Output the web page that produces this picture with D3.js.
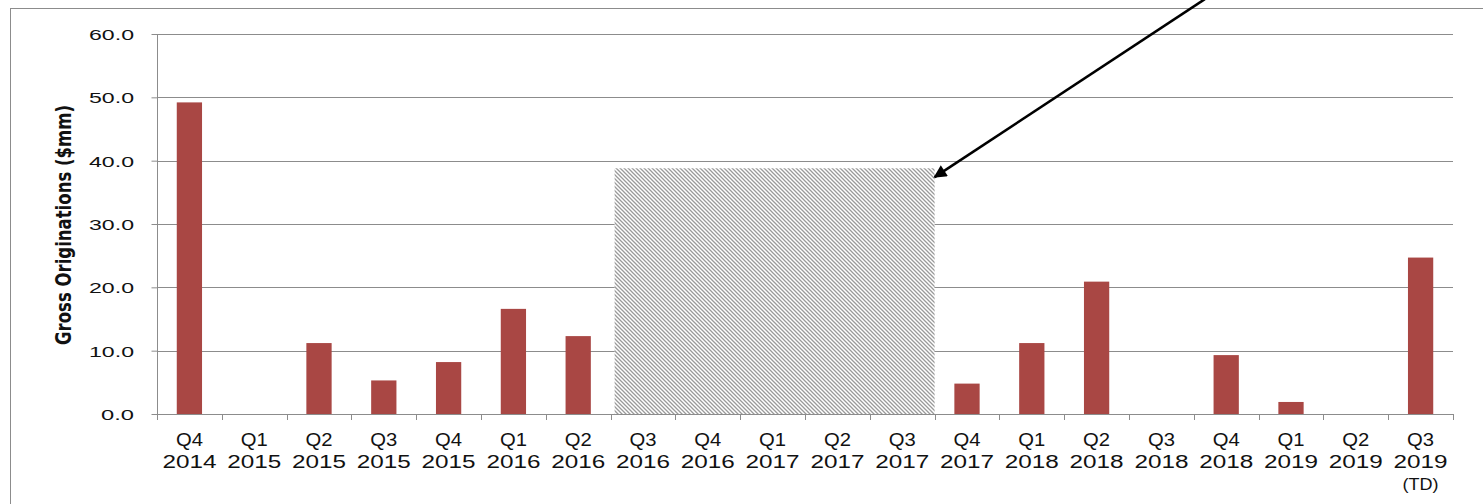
<!DOCTYPE html>
<html><head><meta charset="utf-8">
<script src="https://cdn.jsdelivr.net/npm/d3@7"></script>
<style>html,body{margin:0;padding:0;background:#fff;}svg{display:block;}</style>
</head><body>
<svg id="chart" width="1483" height="504"></svg>
<script>
const quarters = ["Q4","Q1","Q2","Q3","Q4","Q1","Q2","Q3","Q4","Q1","Q2","Q3","Q4","Q1","Q2","Q3","Q4","Q1","Q2","Q3"];
const years    = ["2014","2015","2015","2015","2015","2016","2016","2016","2016","2017","2017","2017","2017","2018","2018","2018","2018","2019","2019","2019"];
const notes    = ["","","","","","","","","","","","","","","","","","","","(TD)"];
const values   = [49.2,0,11.2,5.3,8.2,16.6,12.3,0,0,0,0,0,4.8,11.2,20.9,0,9.3,1.9,0,24.7];
const yTicks   = [0,10,20,30,40,50,60];
const hatchFrom = 7, hatchTo = 11, hatchValue = 38.8;
const arrowTail = {pos:16.17, value:65.5};
const arrowTip  = {pos:12, value:37.4};

const svg = d3.select("#chart");
const keys = quarters.map((q,i)=>q+" "+years[i]+"#"+i);
const x = d3.scaleBand().domain(keys).range([157,1453]).paddingInner(0.61).paddingOuter(0.305);
const y = d3.scaleLinear().domain([0,60]).range([414,34]);
const step = x.step();
const boundary = p => 157 + p*step;
const FONT = "Liberation Sans, Arial, sans-serif";

// frame
svg.append("rect").attr("x",10.5).attr("y",8.5).attr("width",1500).attr("height",520)
  .attr("fill","none").attr("stroke","#8c8c8c").attr("stroke-width",1);

// hatch pattern
const defs = svg.append("defs");
const pat = defs.append("pattern").attr("id","hatch").attr("patternUnits","userSpaceOnUse")
  .attr("width",4).attr("height",4);
pat.append("rect").attr("width",4).attr("height",4).attr("fill","#fff");
pat.append("path").attr("d","M-1,-1 L5,5 M-1,3 L1,5 M3,-1 L5,1").attr("stroke","#9a9a9a").attr("stroke-width",1.3);

// gridlines
svg.append("g").selectAll("line").data(yTicks.filter(d=>d>0)).join("line")
  .attr("x1",157).attr("x2",1453).attr("y1",d=>Math.round(y(d))+0.5).attr("y2",d=>Math.round(y(d))+0.5)
  .attr("stroke","#8c8c8c").attr("stroke-width",1);

// hatched area
svg.append("rect")
  .attr("x",boundary(hatchFrom)+4).attr("width",boundary(hatchTo+1)-boundary(hatchFrom)-4)
  .attr("y",y(hatchValue)).attr("height",y(0)-y(hatchValue))
  .attr("fill","url(#hatch)");

// bars
svg.append("g").selectAll("rect").data(values.map((v,i)=>({v,k:keys[i]})).filter(d=>d.v>0)).join("rect")
  .attr("x",d=>x(d.k)).attr("width",x.bandwidth())
  .attr("y",d=>y(d.v)).attr("height",d=>y(0)-y(d.v))
  .attr("fill","#a94744");

// y axis
const yAxis = d3.axisLeft(y).tickValues(yTicks).tickSize(6).tickFormat(d=>d.toFixed(1));
const gy = svg.append("g").attr("transform","translate(157.5,0)").call(yAxis);
gy.select(".domain").attr("stroke","#8c8c8c").attr("d","M0,"+y(60)+"V"+(y(0)+0.5));
gy.selectAll(".tick line").attr("stroke","#8c8c8c").attr("x1",-6).attr("x2",0);
gy.selectAll(".tick text").attr("x",-23.5).attr("dy","0.36em")
  .attr("font-family",FONT).attr("font-size",15.5).attr("fill","#111")
  .attr("textLength",function(){const s=this.textContent;return (s.length-1)*12+9;})
  .attr("lengthAdjust","spacingAndGlyphs");

// x axis
svg.append("line").attr("x1",157).attr("x2",1453).attr("y1",414.5).attr("y2",414.5).attr("stroke","#8c8c8c");
svg.append("g").selectAll("line").data(d3.range(keys.length+1)).join("line")
  .attr("x1",d=>Math.round(boundary(d))+0.5).attr("x2",d=>Math.round(boundary(d))+0.5)
  .attr("y1",414).attr("y2",420).attr("stroke","#8c8c8c");
const xl = svg.append("g").selectAll("text").data(keys).join("text")
  .attr("text-anchor","middle").attr("font-family",FONT).attr("font-size",18)
  .attr("fill","#111");
xl.each(function(k,i){
  const t = d3.select(this), cx = x(k)+x.bandwidth()/2;
  t.append("tspan").attr("x",cx).attr("y",446).attr("textLength",quarters[i].length*13.5).attr("lengthAdjust","spacingAndGlyphs").text(quarters[i]);
  t.append("tspan").attr("x",cx).attr("y",468).attr("textLength",years[i].length*13.5).attr("lengthAdjust","spacingAndGlyphs").text(years[i]);
  if(notes[i]) t.append("tspan").attr("x",cx).attr("y",490).attr("font-size",16).attr("textLength",36).attr("lengthAdjust","spacingAndGlyphs").text(notes[i]);
});

// y label
svg.append("text").attr("transform","translate(71,225) rotate(-90)")
  .attr("text-anchor","middle").attr("font-family","Liberation Sans Narrow, DejaVu Sans Condensed, sans-serif")
  .attr("font-size",21).attr("font-weight","bold").attr("fill","#111")
  .attr("textLength",240).attr("lengthAdjust","spacingAndGlyphs")
  .text("Gross Originations ($mm)");

// arrow
defs.append("marker").attr("id","ah").attr("viewBox","0 0 10 10").attr("refX",9).attr("refY",5)
  .attr("markerUnits","userSpaceOnUse").attr("markerWidth",18).attr("markerHeight",13).attr("orient","auto")
  .append("path").attr("d","M0,0 L10,5 L0,10 z").attr("fill","#000");
svg.append("line")
  .attr("x1",boundary(arrowTail.pos)).attr("y1",y(arrowTail.value))
  .attr("x2",boundary(arrowTip.pos)).attr("y2",y(arrowTip.value))
  .attr("stroke","#000").attr("stroke-width",2.6).attr("marker-end","url(#ah)");
</script>
</body></html>
